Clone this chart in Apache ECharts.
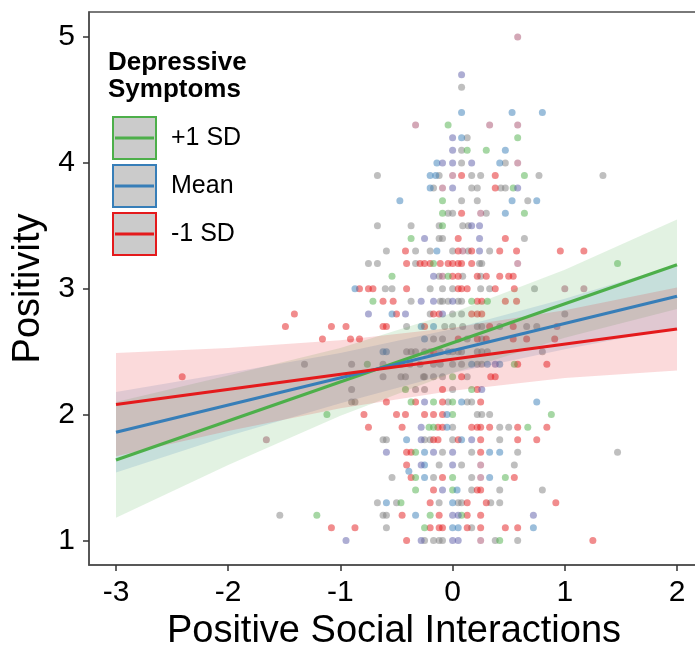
<!DOCTYPE html>
<html>
<head>
<meta charset="utf-8">
<script src="https://cdn.jsdelivr.net/npm/echarts@6/dist/echarts.min.js"></script>
<style>
html,body{margin:0;padding:0;background:#fff;}
#chart{width:695px;height:648px;}
</style>
</head>
<body>
<div id="chart"></div>
<script>
// ---------- data ----------
const xTicks = [-3, -2, -1, 0, 1, 2];
const yTicks = [1, 2, 3, 4, 5];
const seriesNames = ['+1 SD', 'Mean', '-1 SD'];

// fitted lines (x endpoints and y values)
const lineX = [-3, 2];
const greenLine = [1.64, 3.19];
const blueLine = [1.86, 2.94];
const redLine = [2.08, 2.68];

// confidence bands
const bandX = [-3, -2, -1, 0, 1, 2];
const greenLo = [1.18, 1.60, 1.99, 2.33, 2.61, 2.84];
const greenHi = [2.10, 2.31, 2.53, 2.81, 3.15, 3.55];
const blueLo = [1.54, 1.83, 2.09, 2.33, 2.52, 2.69];
const blueHi = [2.18, 2.33, 2.49, 2.68, 2.92, 3.19];
const redLo = [1.67, 1.87, 2.05, 2.19, 2.29, 2.35];
const redHi = [2.49, 2.53, 2.59, 2.69, 2.83, 3.01];

// raw observations grouped by dot colour
const ptsRed = [[0.08,3.9],[0.38,3.9],[0.38,3.8],[0.08,3.6],[0.05,3.4],[0.47,3.4],
[-0.42,3.3],[0.05,3.3],[0.17,3.3],[0.42,3.3],[0.57,3.3],[0.96,3.3],[1.17,3.3],
[-0.41,3.2],[-0.29,3.2],[-0.25,3.2],[-0.2,3.2],[-0.11,3.2],[-0.04,3.2],[0,3.2],[0.05,3.2],[0.08,3.2],[0.17,3.2],
[0,3.1],[0.05,3.1],[0.22,3.1],[0.3,3.1],[0.42,3.1],[0.5,3.1],[0.54,3.1],
[-0.83,3],[-0.75,3],[-0.71,3],[-0.41,3],[0.05,3],[0.08,3],[0.13,3],[0.38,3],[0.55,3],
[-0.62,2.9],[-0.53,2.9],[0.22,2.9],[0.26,2.9],[0.47,2.9],[0.57,2.9],
[-1.41,2.8],[-0.5,2.8],[-0.17,2.8],[-0.12,2.8],[0.17,2.8],[0.22,2.8],[0.26,2.8],
[-1.49,2.7],[-1.08,2.7],[-0.95,2.7],[-0.62,2.7],[-0.59,2.7],[-0.25,2.7],[0.33,2.7],[0.54,2.7],
[-1.16,2.6],[-0.91,2.6],[-0.83,2.6],[0.05,2.6],[0.22,2.6],[0.3,2.6],[0.54,2.6],[0.66,2.6],[0.91,2.6],
[-0.17,2.5],[0.58,2.4],[0.84,2.4],
[-2.41,2.3],[0.08,2.3],[0.34,2.3],[0.38,2.3],
[-0.09,2.2],[0.22,2.2],
[-0.59,2.1],[-0.33,2.1],[-0.09,2.1],[0.25,2.1],
[-0.79,2],[-0.5,2],[-0.42,2],[-0.25,2],[-0.17,2],[-0.09,2],
[-0.75,1.9],[-0.45,1.9],[-0.13,1.9],[-0.09,1.9],[0.17,1.9],[0.22,1.9],[0.25,1.9],[0.33,1.9],[0.58,1.9],[0.84,1.9],
[-0.17,1.8],[-0.13,1.8],[0.05,1.8],[0.25,1.8],[0.58,1.8],[0.75,1.8],
[-0.41,1.7],[-0.37,1.7],[0.25,1.7],[-0.41,1.6],
[-0.37,1.5],[-0.09,1.5],[0.55,1.5],
[-0.17,1.4],[0.22,1.4],[0.25,1.4],
[-0.2,1.3],[0.13,1.3],[0.3,1.3],[0.92,1.3],
[-0.45,1.2],[-0.12,1.2],[0.13,1.2],[0.25,1.2],
[-1.08,1.1],[-0.87,1.1],[-0.2,1.1],[-0.12,1.1],[-0.09,1.1],[0.13,1.1],[0.25,1.1],[0.47,1.1],[0.58,1.1],
[-0.41,1],[1.25,1]];

const ptsMauve = [[0.58,5],[-0.33,4.3],[0.33,4.3],[0.58,4.3],[0.58,4],[0,3.9],[-0.09,3.8],[0.25,3.6],[0.09,3.3],
[0.58,3.2],[-0.09,3.1],[1,3],[1.17,3],[0.93,2.7],[-1.66,1.8],[0.25,1.6],[0.25,1.5],[0.25,1]];

const ptsGreen = [[-0.04,4.3],[0.58,4.2],[0.13,4.1],[0.3,4.1],[0.64,3.9],[0.54,3.8],[-0.09,3.7],[-0.09,3.6],[0.64,3.6],
[-0.09,3.5],[-0.37,3.4],[-0.17,3.2],[1.47,3.2],[-0.54,3.1],[-0.04,3.1],[-0.71,2.9],[0.17,2.9],[0.31,2.9],
[-0.76,2.4],[0.55,2.4],[0,2.3],[-0.42,2.2],[0.17,2.2],[-0.37,2.1],[-0.17,2.1],[0,2.1],[-1.12,2],[0,2],[0.88,2],
[-0.21,1.9],[-0.17,1.9],[0.67,1.9],[-0.33,1.7],[-0.33,1.5],[0,1.5],[0.47,1.5],[-0.33,1.4],[0,1.4],[-0.46,1.3],
[-1.21,1.2],[-0.2,1.2],[0.08,1.2],[-0.25,1.1],[0.42,1]];

const ptsBlue = [[0.08,4.4],[0.53,4.4],[0.8,4.4],[0.08,4.2],[0.47,4.1],[-0.14,4],[0.42,4],[-0.2,3.9],[-0.15,3.9],
[-0.2,3.8],[-0.47,3.7],[0.53,3.7],[0.75,3.7],[0.47,3.6],[-0.14,3.3],[-0.87,3],[-0.54,2.8],[-0.28,2.7],[-0.17,2.7],
[-0.25,2.6],[-0.62,2.5],[-0.59,2.5],[-0.04,2.5],[0.17,2.4],[0.31,2.4],[0.42,2.4],[0.08,2.1],[0.75,2.1],[-0.05,2],
[-0.05,1.9],[-0.41,1.8],[0.08,1.8],[-0.25,1.7],[0.33,1.7],[0.42,1.7],[-0.25,1.6],[-0.39,1.55],[-0.25,1.5],[0.33,1.5],
[0.04,1.4],[-0.59,1.3],[0,1.3],[-0.33,1.2],[0,1.1],[0.05,1.1],[0.72,1.1]];

const ptsPurple = [[0.08,4.7],[0,4.2],[0,4.1],[-0.09,4],[0,4],[0.17,4],[0,3.8],[0.58,3.8],[0.17,3.5],[0.24,3.5],
[-0.25,3.4],[0.24,3.4],[0.24,3.3],[-0.17,3.1],[-0.28,2.9],[-0.17,2.9],[0,2.9],[-0.75,2.8],[-0.42,2.8],[-0.09,2.8],
[0.38,2.4],[0.26,2.2],[-0.25,2.1],[-0.28,1.9],[-0.28,1.8],[0.17,1.8],[-0.59,1.7],[-0.17,1.7],[0,1.7],[-0.28,1.6],
[0,1.6],[-0.09,1.4],[0,1.2],[0.05,1.2],[0.72,1.2],[-0.95,1],[-0.28,1],[0,1],[0.05,1]];

const ptsGrey = [[0.08,4.6],[0.13,4.2],[0.08,4.1],[0.08,4],[0.47,4],
[-0.67,3.9],[-0.12,3.9],[0.17,3.9],[0.25,3.9],[0.77,3.9],[1.34,3.9],
[-0.17,3.8],[0.17,3.8],[0.22,3.8],[0.43,3.8],[0.47,3.8],
[0.08,3.7],[0.22,3.7],[0.67,3.7],
[-0.04,3.6],[0,3.6],[0.3,3.6],
[-0.67,3.5],[-0.37,3.5],[-0.12,3.5],[0.09,3.5],[0.14,3.5],
[-0.12,3.4],[-0.09,3.4],[0.64,3.4],
[-0.59,3.3],[-0.33,3.3],[-0.2,3.3],[0,3.3],[0.14,3.3],[0.33,3.3],
[-0.75,3.2],[-0.67,3.2],[-0.33,3.2],[0.24,3.2],[0.26,3.2],
[-0.12,3.1],[0.09,3.1],[0.25,3.1],
[-0.6,3],[-0.54,3],[-0.2,3],[-0.09,3],[0,3],[0.25,3],[0.33,3],[0.73,3],
[-0.37,2.9],[-0.11,2.9],[-0.09,2.9],[-0.04,2.9],[0.05,2.9],[0.08,2.9],
[-0.2,2.8],[0,2.8],[0.08,2.8],[1,2.8],
[-0.41,2.7],[-0.07,2.7],[0,2.7],[0.09,2.7],[0.22,2.7],[0.26,2.7],[0.42,2.7],[0.66,2.7],[0.75,2.7],
[-0.17,2.6],[-0.09,2.6],[0.13,2.6],[0.26,2.6],
[-0.41,2.5],[-0.37,2.5],[-0.33,2.5],[-0.25,2.5],[-0.2,2.5],[-0.11,2.5],[0,2.5],[0.05,2.5],[0.08,2.5],[0.22,2.5],[0.26,2.5],[0.31,2.5],[0.8,2.5],
[-1.32,2.4],[-0.9,2.4],[-0.62,2.4],[-0.46,2.4],[-0.38,2.4],[-0.29,2.4],[-0.17,2.4],[-0.11,2.4],[0,2.4],[0.08,2.4],[0.22,2.4],[0.26,2.4],
[-0.62,2.3],[-0.46,2.3],[-0.42,2.3],[-0.26,2.3],[-0.25,2.3],[-0.17,2.3],[-0.09,2.3],[0.13,2.3],
[-0.9,2.2],[-0.33,2.2],[-0.25,2.2],[0,2.2],
[-0.9,2.1],[-0.87,2.1],[-0.04,2.1],[0.13,2.1],[0.17,2.1],
[0.22,2],[0.26,2],[0.33,2],
[0,1.9],[0.42,1.9],[0.5,1.9],
[-0.62,1.8],[-0.59,1.8],[-0.25,1.8],[-0.2,1.8],[0,1.8],[0.42,1.8],
[-0.09,1.7],[0.17,1.7],[0.58,1.7],[1.47,1.7],
[-0.12,1.6],[0.08,1.6],[0.55,1.6],
[-0.54,1.5],[-0.17,1.5],[0.17,1.5],
[0.17,1.4],[0.42,1.4],[0.8,1.4],
[-0.67,1.3],[-0.5,1.3],[-0.12,1.3],[0.05,1.3],[0.08,1.3],[0.34,1.3],[0.42,1.3],
[-1.54,1.2],[-0.62,1.2],[-0.59,1.2],
[-0.59,1.1],[0.17,1.1],
[-0.25,1],[-0.17,1],[-0.12,1],[-0.09,1],[0.38,1],[0.58,1]];

// ---------- styling ----------
const FONT = '"Liberation Sans", Arial, Helvetica, sans-serif';
const C_GREEN = '#4daf4a', C_BLUE = '#377eb8', C_RED = '#e41a1c';
const X_MIN = -3.2406, X_MAX = 2.196;
const Y_MIN = 0.805, Y_MAX = 5.1988;

function pairs(xs, ys) { return xs.map((x, i) => [x, ys[i]]); }

function bandSeries(name, lo, hi, color) {
  return {
    type: 'custom', name: name, silent: true, z: 2, clip: true,
    data: [[bandX[0], lo[0]]],
    renderItem: function (params, api) {
      const pts = [];
      for (let i = 0; i < bandX.length; i++) pts.push(api.coord([bandX[i], hi[i]]));
      for (let i = bandX.length - 1; i >= 0; i--) pts.push(api.coord([bandX[i], lo[i]]));
      return { type: 'polygon', shape: { points: pts }, style: { fill: color, opacity: 0.16 } };
    }
  };
}
function dots(data, color) {
  return { type: 'scatter', data: data, symbolSize: 7, z: 1, silent: true,
    itemStyle: { color: color, opacity: 0.5 } };
}
function fitLine(name, ys, color) {
  return { type: 'line', name: name, data: pairs(lineX, ys), showSymbol: false, z: 3,
    lineStyle: { color: color, width: 3.2 }, itemStyle: { color: color } };
}

const ICON = 'path://M0,0L43,0L43,42L0,42Z M3,20.5L40,20.5L40,21.5L3,21.5Z';
const keyColors = [C_GREEN, C_BLUE, C_RED];

const chart = echarts.init(document.getElementById('chart'), null, { renderer: 'canvas' });
chart.setOption({
  animation: false,
  backgroundColor: '#fff',
  textStyle: { fontFamily: FONT },
  title: {
    text: 'Depressive\nSymptoms', left: 108, top: 49,
    textStyle: { fontFamily: FONT, fontSize: 26, fontWeight: 'bold', color: '#000', lineHeight: 27 },
    padding: 0
  },
  legend: {
    orient: 'vertical', left: 112, top: 116, padding: 0,
    itemWidth: 43, itemHeight: 42, itemGap: 4,
    icon: ICON,
    textStyle: { fontFamily: FONT, fontSize: 25, color: '#000', padding: [0, 0, 0, 10] },
    selectedMode: false,
    data: seriesNames.map((n, i) => ({ name: n, icon: ICON,
      itemStyle: { color: '#cbcbcb', borderColor: keyColors[i], borderWidth: 2, opacity: 1 } }))
  },
  grid: { left: 89, top: 12, right: -4, bottom: 83, outerBoundsMode: 'none', containLabel: false,
    show: true, borderColor: '#4d4d4d', borderWidth: 1.5, backgroundColor: 'transparent' },
  xAxis: {
    type: 'value', min: X_MIN, max: X_MAX,
    name: 'Positive Social Interactions', nameLocation: 'middle', nameGap: 43,
    nameTextStyle: { fontFamily: FONT, fontSize: 38, color: '#000' },
    axisLine: { show: true, onZero: false, lineStyle: { color: '#4d4d4d', width: 1.5 } },
    axisTick: { show: true, length: 6, customValues: xTicks, lineStyle: { color: '#333', width: 1.5 } },
    axisLabel: { customValues: xTicks, fontFamily: FONT, fontSize: 30, color: '#000', margin: 13 },
    splitLine: { show: false }
  },
  yAxis: {
    type: 'value', min: Y_MIN, max: Y_MAX,
    name: 'Positivity', nameLocation: 'middle', nameGap: 40,
    nameTextStyle: { fontFamily: FONT, fontSize: 38, color: '#000' },
    axisLine: { show: true, onZero: false, lineStyle: { color: '#4d4d4d', width: 1.5 } },
    axisTick: { show: true, length: 6, customValues: yTicks, lineStyle: { color: '#333', width: 1.5 } },
    axisLabel: { customValues: yTicks, fontFamily: FONT, fontSize: 30, color: '#000', margin: 14 },
    splitLine: { show: false }
  },
  series: [
    dots(ptsGrey, '#808080'),
    dots(ptsRed, C_RED),
    dots(ptsMauve, '#a8506e'),
    dots(ptsGreen, C_GREEN),
    dots(ptsBlue, C_BLUE),
    dots(ptsPurple, '#5b5ba8'),
    bandSeries('+1 SD band', greenLo, greenHi, C_GREEN),
    bandSeries('Mean band', blueLo, blueHi, C_BLUE),
    bandSeries('-1 SD band', redLo, redHi, C_RED),
    fitLine('+1 SD', greenLine, C_GREEN),
    fitLine('Mean', blueLine, C_BLUE),
    fitLine('-1 SD', redLine, C_RED)
  ]
});
</script>
</body>
</html>
